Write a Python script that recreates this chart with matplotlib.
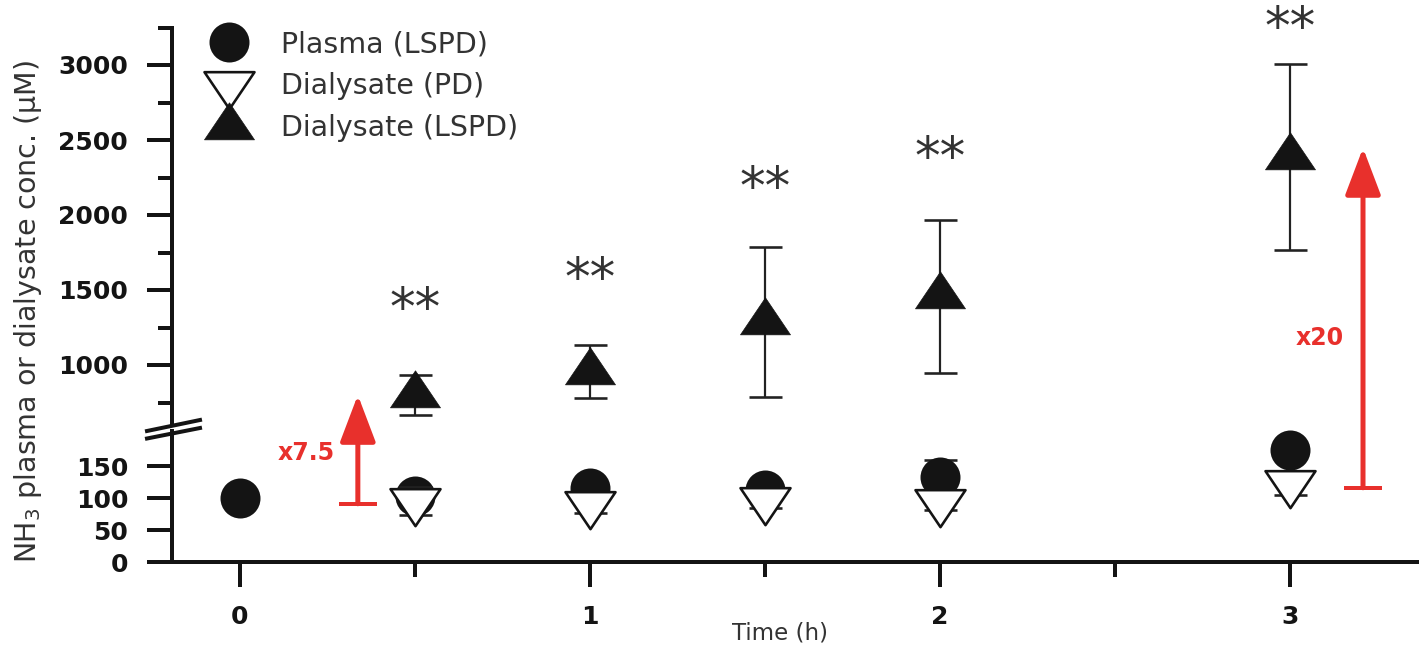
import numpy as np
import matplotlib
matplotlib.use("Agg")
import matplotlib.pyplot as plt
from matplotlib.path import Path
from matplotlib.lines import Line2D

# ---------------- data ----------------
time_plasma = [0, 0.5, 1, 1.5, 2, 3]
plasma_lspd = [100, 103, 116, 112, 133, 175]
plasma_lspd_sd = [5, 6, 6, 6, 27, 10]

time_dial = [0.5, 1, 1.5, 2, 3]
dialysate_pd = [95, 90, 97, 94, 123]
dialysate_pd_sd = [22, 13, 12, 12, 18]
dialysate_lspd = [802, 955, 1290, 1460, 2390]
dialysate_lspd_sd = [133, 177, 500, 510, 620]

series_labels = ["Plasma (LSPD)", "Dialysate (PD)", "Dialysate (LSPD)"]

sig_time = [0.5, 1, 1.5, 2, 3]
sig_y = [1413, 1613, 2220, 2420, 3287]
sig_label = "**"

fold_x = [0.337, 3.209]
fold_from = [91, 116]
fold_to = [800, 2447]
fold_text = ["x7.5", "x20"]
fold_text_x = [0.189, 3.086]
fold_text_y = [170, 1180]
fold_text_axis = ["low", "up"]

low_yticks = [0, 50, 100, 150]
up_yticks = [1000, 1500, 2000, 2500, 3000]
up_yminor = [750, 1250, 1750, 2250, 2750, 3250]
xticks = [0, 1, 2, 3]
xminor = [0.5, 1.5, 2.5]

# ---------------- style ----------------
W, H = 1419, 655
DPI = 100
PT = 72.0 / DPI  # points per pixel
BLACK = "#141414"
RED = "#e8302c"
TXT = "#333333"

plt.rcParams["font.family"] = ["DejaVu Sans"]
plt.rcParams["mathtext.default"] = "regular"

fig = plt.figure(figsize=(W / DPI, H / DPI), dpi=DPI)
fig.patch.set_facecolor("white")

def fx(x):
    return x / W

def fy(y):
    return 1 - y / H

left_px, right_px = 172, W
ax_low = fig.add_axes([fx(left_px), fy(562), (right_px - left_px) / W, (562 - 431) / H])
ax_up = fig.add_axes([fx(left_px), fy(425), (right_px - left_px) / W, (425 - 27.5) / H])

xlim = (-0.194, 3.369)
for ax in (ax_low, ax_up):
    ax.set_xlim(*xlim)
    ax.set_facecolor("none")
    for s in ("top", "right"):
        ax.spines[s].set_visible(False)
    ax.spines["left"].set_linewidth(4 * PT)
    ax.spines["bottom"].set_linewidth(4 * PT)
    ax.spines["left"].set_color(BLACK)
    ax.spines["bottom"].set_color(BLACK)

ax_low.set_ylim(0, 204.7)
ax_up.set_ylim(600, 3250)
ax_up.spines["bottom"].set_visible(False)
ax_up.tick_params(axis="x", which="both", bottom=False, labelbottom=False)

ax_low.set_yticks(low_yticks)
ax_low.set_xticks(xticks)
ax_low.set_xticks(xminor, minor=True)
ax_up.set_yticks(up_yticks)
ax_up.set_yticks(up_yminor, minor=True)

for ax in (ax_low, ax_up):
    ax.tick_params(axis="y", which="major", direction="out", length=25 * PT,
                   width=4 * PT, labelsize=18, pad=13.5, colors=BLACK)
    ax.tick_params(axis="y", which="minor", direction="out", length=14 * PT,
                   width=4 * PT, colors=BLACK)
ax_low.tick_params(axis="x", which="major", direction="out", length=25 * PT,
                   width=4 * PT, labelsize=18, pad=13, colors=BLACK)
ax_low.tick_params(axis="x", which="minor", direction="out", length=15 * PT,
                   width=4 * PT, colors=BLACK)
for ax in (ax_low, ax_up):
    plt.setp(ax.get_yticklabels(), fontweight="bold")
plt.setp(ax_low.get_xticklabels(), fontweight="bold")

# ---------------- markers ----------------
h = 0.74
tri_up = Path([(0, 2 * h / 3), (-0.5, -h / 3), (0.5, -h / 3), (0, 0)],
              [Path.MOVETO, Path.LINETO, Path.LINETO, Path.CLOSEPOLY])
tri_dn = Path([(0, -2 * h / 3), (-0.5, h / 3), (0.5, h / 3), (0, 0)],
              [Path.MOVETO, Path.LINETO, Path.LINETO, Path.CLOSEPOLY])

circ_ms = 40 * PT
tri_ms = 50 * PT
eb_kw = dict(fmt="none", ecolor="#222222", elinewidth=2.2 * PT,
             capsize=16.5 * PT, capthick=2.6 * PT, clip_on=False)

# lower axes: plasma + PD dialysate
ax_low.errorbar(time_plasma, plasma_lspd, yerr=plasma_lspd_sd, zorder=2, **eb_kw)
h1, = ax_low.plot(time_plasma, plasma_lspd, ls="none", marker="o", ms=circ_ms,
                  mfc=BLACK, mec=BLACK, mew=0, zorder=3, clip_on=False,
                  label=series_labels[0])
ax_low.errorbar(time_dial, dialysate_pd, yerr=dialysate_pd_sd, zorder=3.5, **eb_kw)
h2, = ax_low.plot(time_dial, dialysate_pd, ls="none", marker=tri_dn, ms=tri_ms,
                  mfc="white", mec=BLACK, mew=2.6 * PT, zorder=4, clip_on=False,
                  label=series_labels[1])

# upper axes: LSPD dialysate
ax_up.errorbar(time_dial, dialysate_lspd, yerr=dialysate_lspd_sd, zorder=2, **eb_kw)
h3, = ax_up.plot(time_dial, dialysate_lspd, ls="none", marker=tri_up, ms=tri_ms,
                 mfc=BLACK, mec=BLACK, mew=0.5, zorder=3, clip_on=False,
                 label=series_labels[2])

# significance stars
for t, y in zip(sig_time, sig_y):
    ax_up.annotate(sig_label, xy=(t, y), xycoords="data", xytext=(0, -6),
                   textcoords="offset points", ha="center", va="center",
                   fontsize=37, color=TXT, annotation_clip=False)

# fold-change arrows
for xa, y0, y1 in zip(fold_x, fold_from, fold_to):
    ax_up.annotate("", xy=(xa, y1), xycoords="data",
                   xytext=(xa, y0), textcoords=ax_low.transData,
                   arrowprops=dict(arrowstyle="-|>,head_length=1.45,head_width=0.55",
                                   color=RED, lw=5 * PT, shrinkA=0, shrinkB=0,
                                   mutation_scale=20))
    ax_low.plot([xa], [y0], marker="_", ms=38 * PT, mew=4 * PT, color=RED,
                clip_on=False, zorder=5)
for s, xt, yt, which in zip(fold_text, fold_text_x, fold_text_y, fold_text_axis):
    a = ax_low if which == "low" else ax_up
    a.text(xt, yt, s, ha="center", va="center", fontsize=17, fontweight="bold",
           color=RED, clip_on=False)

# legend
leg = ax_up.legend(handles=[h1, h2, h3], labels=series_labels, loc="upper left",
                   bbox_to_anchor=(fx(208), fy(30)), bbox_transform=fig.transFigure,
                   frameon=False, fontsize=20.5, borderpad=0, borderaxespad=0,
                   handlelength=1.45, handletextpad=1.12, labelspacing=0.5,
                   markerscale=1.0, numpoints=1)
for t in leg.get_texts():
    t.set_color(TXT)

# axis labels
fig.text(fx(28), fy(311), "NH$_3$ plasma or dialysate conc. (µM)", rotation=90,
         ha="center", va="center", fontsize=20.5, color=TXT)
fig.text(fx(780), fy(633), "Time (h)", ha="center", va="center", fontsize=16.5,
         color=TXT)

# axis break marks
fig.add_artist(Line2D([fx(147), fx(200)], [fy(431), fy(420)], color=BLACK,
                      lw=4 * PT, transform=fig.transFigure, zorder=5))
fig.add_artist(Line2D([fx(147), fx(200)], [fy(438.5), fy(428)], color=BLACK,
                      lw=4 * PT, transform=fig.transFigure, zorder=5))

fig.savefig("out.png", dpi=DPI, facecolor="white")
